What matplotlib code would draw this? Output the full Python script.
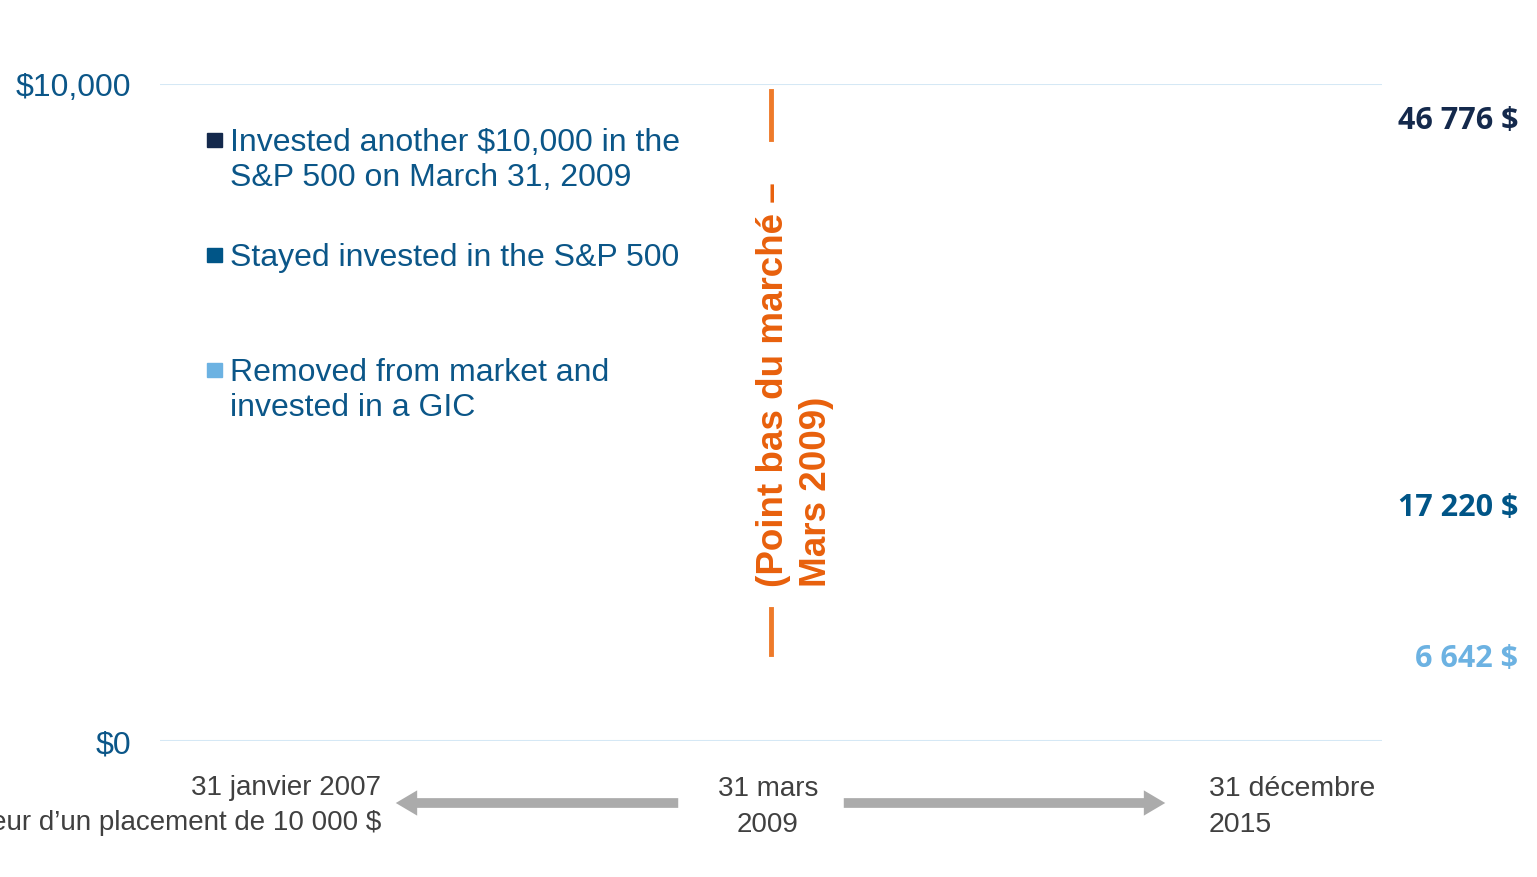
import matplotlib
matplotlib.use('Agg')
import matplotlib.pyplot as plt
from matplotlib.patches import Rectangle, FancyArrowPatch

# data
y_ticks = [0, 10000]
y_tick_labels = ['$0', '$10,000']
series_names = ['Invested another $10,000 in the\nS&P 500 on March 31, 2009',
                'Stayed invested in the S&P 500',
                'Removed from market and\ninvested in a GIC']
series_colors = ['#14294C', '#005587', '#6CB2E2']
final_values = [46776, 17220, 6642]
date_labels = ['31 janvier 2007\nValeur d\u2019un placement de 10 000 $', '31 mars\n2009', '31 décembre\n2015']
market_low_text = '(Point bas du marché \u2013\nMars 2009)'

W, H = 1537, 878
TXT = '#0B5688'
GREY = '#404040'
ORANGE = '#E8600C'


def fx(px):
    return px / W


def fy(py):
    return 1 - py / H


plt.rcParams['font.family'] = ['Liberation Sans', 'DejaVu Sans']
fig = plt.figure(figsize=(W / 100, H / 100), dpi=100)
ax = fig.add_axes([fx(160), fy(742), fx(1382) - fx(160), fy(85) - fy(742)])
ax.set_xlim(0, 1)
ax.set_ylim(0, 10000)
ax.set_yticks(y_ticks)
ax.set_yticklabels(y_tick_labels, fontsize=23, color=TXT)
ax.set_xticks([])
ax.tick_params(axis='y', length=0, pad=21)
for s in ax.spines.values():
    s.set_visible(False)
for v in y_ticks:
    ax.axhline(v, color='#D5E8F5', lw=1.5, zorder=0)

# legend, placed by hand
legend_y = [141, 256, 371]
for name, col, ly in zip(series_names, series_colors, legend_y):
    fig.patches.append(Rectangle((fx(207), fy(ly + 7)), fx(15), fy(ly - 7) - fy(ly + 7),
                                 transform=fig.transFigure, color=col))
    fig.text(fx(230), fy(ly - 13), name, fontsize=23, color=TXT, ha='left', va='top', linespacing=1.22)

# market low marker
ax.axvline(0.5, ymin=(742 - 140) / 657, ymax=(742 - 92) / 657, color='#EE7A2A', lw=3.5)
ax.axvline(0.5, ymin=(742 - 655) / 657, ymax=(742 - 610) / 657, color='#EE7A2A', lw=3.5)
fig.text(fx(795), fy(587), market_low_text, rotation=90, fontsize=26.5, fontweight='bold', color=ORANGE,
         ha='center', va='bottom', multialignment='left', linespacing=1.3)

# end values on the right
value_y = [121, 508, 659]
for v, col, vy in zip(final_values, series_colors, value_y):
    lbl = f'{v:,} $'.replace(',', ' ')
    fig.text(fx(1518), fy(vy), lbl, fontsize=22, fontweight='bold', color=col, ha='right', va='center',
             family=['Open Sans', 'DejaVu Sans'])

# dates along the bottom
fig.text(fx(381), fy(806), date_labels[0], fontsize=20, color=GREY, ha='right', va='center',
         multialignment='right', linespacing=1.45)
fig.text(fx(768), fy(807), date_labels[1], fontsize=20, color=GREY, ha='center', va='center',
         multialignment='center', linespacing=1.5)
fig.text(fx(1209), fy(807), date_labels[2], fontsize=20.5, color=GREY, ha='left', va='center',
         multialignment='left', linespacing=1.48)

arrow = dict(arrowstyle='simple,head_width=1.3,head_length=1.1,tail_width=0.5', color='#ABABAB', lw=0)
fig.add_artist(FancyArrowPatch((fx(681), fy(804)), (fx(393), fy(804)),
                               transform=fig.transFigure, mutation_scale=14, **arrow))
fig.add_artist(FancyArrowPatch((fx(841), fy(804)), (fx(1168), fy(804)),
                               transform=fig.transFigure, mutation_scale=14, **arrow))

fig.savefig('out.png', dpi=100)
